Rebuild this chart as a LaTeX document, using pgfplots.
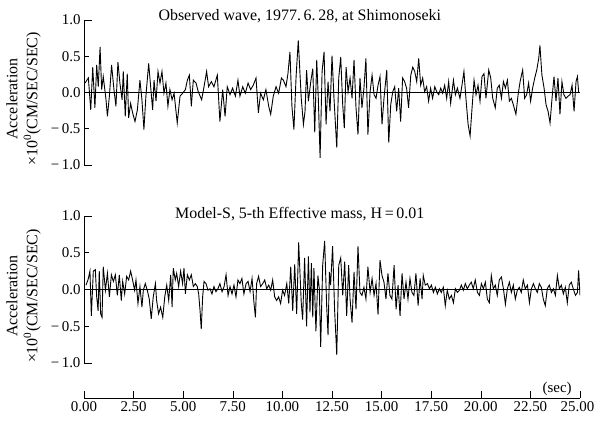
\documentclass[border=0pt]{standalone}
\usepackage{fontspec}
\setmainfont{Liberation Serif}
\usepackage{pgfplots}
\usepackage{pgfplotstable}
\pgfplotsset{compat=1.18}

% observed record, Shimonoseki 1977.6.28 (t in sec, acc)
\pgfplotstableread{
t a
0.05 0.13
0.22 0.20
0.34 -0.24
0.44 0.35
0.55 -0.21
0.64 0.38
0.72 0.08
0.81 0.63
0.89 0.04
0.97 0.22
1.11 -0.10
1.18 -0.33
1.28 -0.05
1.39 0.38
1.51 0.04
1.61 -0.19
1.71 0.42
1.81 0.13
1.92 -0.10
1.98 0.29
2.08 -0.33
2.18 0.26
2.25 -0.35
2.35 -0.15
2.45 -0.28
2.57 -0.40
2.69 -0.24
2.82 0.17
2.92 -0.10
3.02 -0.51
3.12 -0.05
3.26 0.40
3.36 0.08
3.46 -0.24
3.53 0.17
3.63 -0.12
3.73 0.29
3.83 0.13
3.93 0.29
4.03 -0.01
4.13 0.13
4.23 -0.19
4.33 0.04
4.44 -0.10
4.54 -0.01
4.70 -0.42
4.84 -0.05
4.97 -0.01
5.11 0.04
5.21 0.17
5.31 0.24
5.41 -0.19
5.51 0.17
5.65 0.13
5.76 0.01
5.93 -0.10
6.05 0.08
6.18 0.29
6.28 0.08
6.42 0.15
6.55 0.08
6.72 0.24
6.85 -0.40
6.99 0.04
7.11 -0.33
7.22 0.08
7.36 -0.03
7.49 0.06
7.63 -0.05
7.76 0.17
7.86 -0.05
8.00 0.08
8.13 -0.01
8.27 0.13
8.40 0.04
8.53 0.10
8.67 0.20
8.79 -0.28
8.90 -0.01
9.04 -0.10
9.17 0.04
9.31 -0.19
9.41 -0.30
9.54 -0.05
9.68 0.08
9.81 -0.01
9.95 0.20
10.05 0.17
10.18 0.08
10.28 0.26
10.38 0.56
10.48 -0.19
10.58 -0.51
10.69 0.22
10.80 0.72
10.95 -0.08
11.06 -0.44
11.14 -0.26
11.22 0.31
11.31 -0.12
11.43 0.15
11.53 0.33
11.63 -0.55
11.73 0.45
11.81 -0.08
11.90 -0.90
12.00 0.29
12.10 0.56
12.20 -0.44
12.30 0.15
12.40 -0.26
12.50 0.51
12.60 -0.08
12.74 -0.76
12.84 0.20
12.94 0.49
13.04 -0.17
13.12 -0.49
13.21 0.35
13.31 0.01
13.41 0.20
13.51 -0.08
13.61 0.45
13.71 -0.21
13.81 -0.58
13.91 0.20
14.01 -0.21
14.11 0.06
14.21 0.47
14.31 -0.58
14.42 0.01
14.52 0.24
14.62 -0.03
14.72 -0.08
14.82 0.10
14.92 0.22
15.02 -0.44
15.12 -0.08
15.26 0.31
15.36 -0.69
15.46 -0.17
15.56 0.01
15.66 0.08
15.76 -0.26
15.86 0.06
15.96 -0.40
16.06 0.20
16.16 0.15
16.26 0.06
16.36 -0.21
16.47 0.24
16.57 0.35
16.67 0.29
16.77 0.15
16.87 0.47
16.97 0.10
17.07 0.20
17.17 0.01
17.27 0.08
17.37 -0.12
17.47 0.06
17.57 -0.08
17.68 0.08
17.78 0.01
17.88 -0.03
17.98 0.06
18.08 -0.01
18.18 0.10
18.28 -0.08
18.38 0.15
18.48 -0.15
18.62 0.17
18.72 -0.03
18.82 0.06
18.95 -0.08
19.05 0.10
19.15 0.29
19.25 -0.08
19.36 -0.44
19.46 -0.60
19.56 -0.21
19.66 0.17
19.76 -0.03
19.86 0.10
19.96 -0.12
20.06 0.22
20.16 0.26
20.26 -0.08
20.40 0.31
20.50 0.20
20.60 -0.08
20.73 -0.21
20.83 0.06
20.93 0.10
21.04 -0.08
21.14 0.15
21.24 0.06
21.34 0.17
21.44 -0.12
21.54 -0.08
21.64 -0.17
21.77 -0.30
21.88 -0.03
21.98 0.15
22.11 0.31
22.21 -0.08
22.31 -0.03
22.41 0.13
22.51 -0.12
22.61 0.06
22.72 0.20
22.82 0.31
22.92 0.47
22.98 0.65
23.08 0.24
23.19 0.06
23.29 -0.17
23.39 -0.26
23.49 -0.42
23.59 -0.08
23.69 0.22
23.79 -0.12
23.89 0.20
23.99 -0.30
24.09 0.15
24.19 -0.03
24.29 -0.08
24.40 -0.05
24.50 -0.03
24.60 0.10
24.70 -0.26
24.80 0.15
24.87 0.22
24.93 0.01
}\observed

% Model-S response, 5th effective mass, H = 0.01
\pgfplotstableread{
t a
0.10 0.06
0.20 0.13
0.30 0.25
0.37 -0.36
0.47 0.25
0.57 0.27
0.64 -0.10
0.71 -0.29
0.77 0.25
0.84 -0.33
0.91 -0.38
0.97 0.31
1.08 -0.01
1.18 0.22
1.28 -0.10
1.38 0.20
1.48 0.11
1.58 0.20
1.68 -0.08
1.78 0.20
1.88 -0.15
1.95 0.11
2.05 -0.06
2.15 0.18
2.25 0.13
2.35 0.25
2.45 0.13
2.55 -0.01
2.62 0.13
2.72 -0.19
2.82 0.04
2.92 -0.24
2.99 -0.01
3.09 0.08
3.19 -0.01
3.29 -0.13
3.39 -0.40
3.49 -0.10
3.60 0.08
3.66 -0.15
3.76 -0.33
3.86 -0.24
3.97 -0.38
4.07 -0.10
4.17 0.06
4.27 -0.15
4.37 0.20
4.44 -0.24
4.50 0.29
4.60 0.13
4.67 0.22
4.77 0.04
4.87 0.25
4.97 0.08
5.04 0.29
5.11 -0.06
5.21 0.20
5.31 0.13
5.41 0.20
5.51 0.04
5.61 0.08
5.71 0.04
5.78 -0.06
5.85 -0.29
5.91 -0.54
5.98 -0.10
6.05 0.11
6.15 0.08
6.25 -0.01
6.35 0.01
6.45 -0.06
6.55 0.04
6.65 -0.03
6.75 0.01
6.85 0.08
6.96 -0.03
7.06 0.04
7.16 0.20
7.26 -0.08
7.36 0.04
7.46 -0.06
7.56 0.06
7.66 -0.10
7.76 0.13
7.86 0.08
7.96 0.15
8.06 -0.06
8.17 0.08
8.27 0.11
8.37 -0.03
8.47 0.15
8.57 -0.19
8.64 -0.38
8.70 0.08
8.80 0.18
8.90 0.04
9.01 0.08
9.11 0.13
9.21 0.01
9.31 0.06
9.41 -0.01
9.51 0.13
9.61 -0.10
9.71 -0.15
9.81 -0.10
9.91 -0.19
10.01 -0.01
10.11 -0.08
10.22 0.08
10.32 -0.19
10.42 0.31
10.52 -0.29
10.62 0.34
10.72 -0.33
10.82 0.64
10.95 -0.18
11.02 -0.41
11.12 0.43
11.22 -0.50
11.31 0.45
11.39 -0.31
11.46 0.36
11.53 -0.38
11.59 0.29
11.69 -0.57
11.79 0.19
11.86 0.01
11.93 -0.78
12.03 0.33
12.13 0.66
12.23 -0.22
12.30 -0.62
12.37 0.24
12.43 0.06
12.53 0.59
12.63 -0.27
12.74 -0.89
12.84 0.33
12.94 0.43
13.04 -0.08
13.14 0.38
13.24 -0.36
13.34 0.33
13.41 -0.13
13.51 -0.45
13.61 0.24
13.71 -0.27
13.81 0.59
13.91 -0.04
14.01 -0.08
14.11 0.03
14.21 -0.13
14.31 0.31
14.42 -0.04
14.52 0.15
14.62 -0.08
14.72 0.08
14.82 -0.34
14.92 0.40
15.02 0.19
15.12 0.10
15.22 -0.13
15.32 0.22
15.42 -0.08
15.52 -0.13
15.63 0.33
15.73 -0.27
15.83 0.06
15.93 -0.36
16.03 0.22
16.13 -0.13
16.23 0.10
16.33 -0.13
16.43 0.15
16.53 -0.04
16.63 -0.08
16.73 0.22
16.84 -0.22
16.94 0.15
17.04 -0.13
17.10 0.19
17.20 0.06
17.31 0.08
17.41 0.01
17.51 0.06
17.61 -0.04
17.71 0.03
17.81 -0.06
17.91 0.01
18.01 -0.04
18.11 0.03
18.21 -0.22
18.31 -0.01
18.41 -0.13
18.52 -0.08
18.62 -0.18
18.72 0.01
18.82 -0.04
18.92 -0.01
19.02 0.06
19.12 -0.01
19.22 0.08
19.32 0.01
19.42 0.06
19.52 0.10
19.62 0.01
19.72 0.13
19.83 -0.04
19.93 -0.08
20.03 0.08
20.13 0.01
20.23 0.10
20.33 -0.13
20.43 -0.18
20.53 0.19
20.63 0.01
20.73 0.06
20.83 -0.08
20.93 0.13
21.04 0.17
21.14 0.01
21.24 -0.20
21.34 0.01
21.44 0.10
21.54 -0.04
21.64 0.06
21.74 -0.13
21.84 -0.01
21.94 0.03
22.04 -0.04
22.14 0.13
22.24 0.01
22.35 0.06
22.45 -0.18
22.55 0.01
22.65 0.08
22.75 0.01
22.85 -0.04
22.95 0.08
23.05 0.03
23.15 -0.13
23.25 -0.22
23.35 0.01
23.45 0.06
23.56 -0.04
23.66 0.01
23.76 -0.08
23.86 0.19
23.96 0.01
24.06 0.06
24.16 -0.06
24.26 0.03
24.36 -0.18
24.46 0.06
24.56 0.10
24.66 0.01
24.77 -0.08
24.87 -0.04
24.93 0.26
25.00 -0.08
}\model

\pgfplotsset{
  wave/.style={
    scale only axis, width=496bp,
    xmin=0, xmax=25, ymin=-1, ymax=1,
    axis y line=left, axis x line=middle,
    axis line style={-, line width=0.6bp, black},
    xtick=\empty,
    ytick={-1,-0.5,0,0.5,1},
    yticklabels={−\,1.0,−\,0.5,0.0,0.5,1.0},
    ytick align=inside, major tick length=5bp,
    extra y ticks={-1,1}, extra y tick labels={},
    extra y tick style={major tick length=8bp},
    tick style={line width=0.6bp, black},
    tick label style={font=\fontsize{15}{18}\selectfont},
    ylabel={Acceleration\\[1bp]×10\textsuperscript{0}(CM/SEC/SEC)},
    every axis y label/.style={at={(axis description cs:-0.08,0.455)},
      anchor=south, rotate=90, align=center, font=\fontsize{16}{19}\selectfont},
    every axis title/.style={at={(axis description cs:0.435,1)},
      anchor=base, font=\fontsize{16}{19}\selectfont},
  },
  trace/.style={black, line width=0.9bp, sharp plot},
}

\begin{document}
\begin{tikzpicture}
\useasboundingbox (0,0) rectangle (595bp,-422bp);

\begin{axis}[wave, height=145bp, at={(84bp,-165bp)}, anchor=south west,
  title={Observed wave, 1977.\,6.\,28, at Shimonoseki}]
\addplot[trace] table[x=t, y=a] {\observed};
\end{axis}

\begin{axis}[wave, height=147bp, at={(84bp,-363bp)}, anchor=south west,
  every axis title/.append style={yshift=-2bp},
  title={Model-S, 5-th Effective mass, H\,=\,0.01}]
\addplot[trace] table[x=t, y=a] {\model};
\end{axis}

% time axis
\begin{axis}[scale only axis, width=496bp, height=20bp,
  at={(84bp,-398bp)}, anchor=south west,
  xmin=0, xmax=25, ymin=0, ymax=1,
  hide y axis, axis x line=bottom,
  axis line style={-, line width=0.6bp, black},
  xtick={0,2.5,5,7.5,10,12.5,15,17.5,20,22.5,25},
  xticklabels={0.00,2.50,5.00,7.50,10.00,12.50,15.00,17.50,20.00,22.50,\hspace*{-5bp}25.00},
  xtick align=inside, major tick length=7bp,
  tick style={line width=0.6bp, black},
  tick label style={font=\fontsize{15}{18}\selectfont},
  xlabel={(sec)},
  every axis x label/.style={at={(axis description cs:0.954,0)},
    anchor=base, yshift=6bp, font=\fontsize{15}{18}\selectfont}]
\end{axis}
\end{tikzpicture}
\end{document}
